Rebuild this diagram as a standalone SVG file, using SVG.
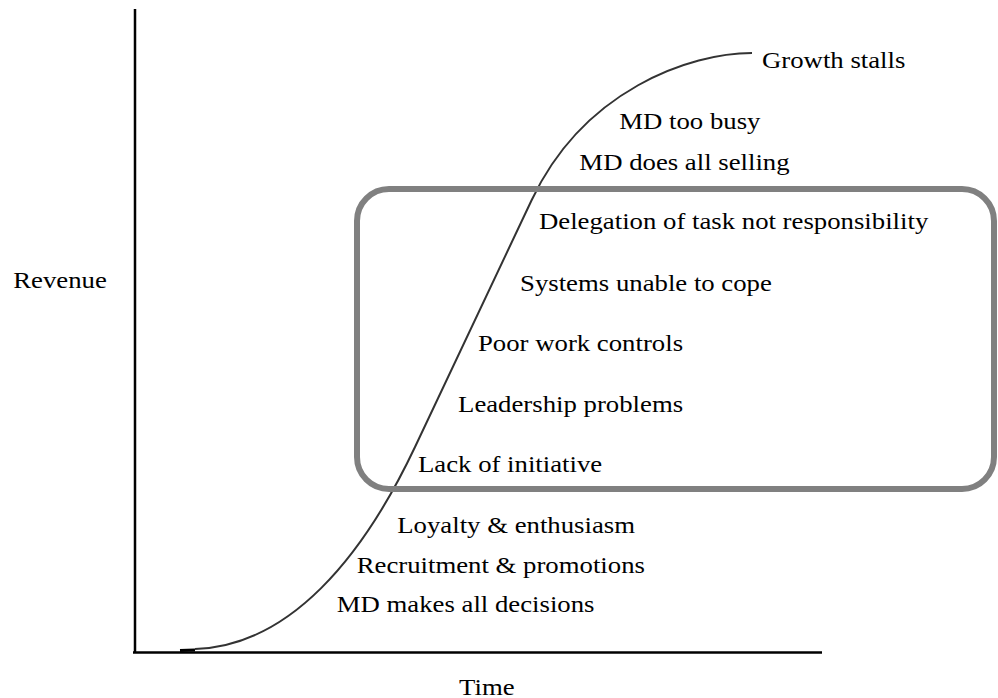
<svg xmlns="http://www.w3.org/2000/svg" width="998" height="698" viewBox="0 0 998 698">
<style>
text{font-family:"Liberation Serif","Times New Roman","DejaVu Serif",serif;font-size:24px;fill:#000}
.axis{stroke:#000;stroke-width:2.5;fill:none}
.curve{stroke:#333;stroke-width:2;fill:none}
.box{stroke:#808080;stroke-width:6;fill:none}
</style>
<rect width="998" height="698" fill="#fff"/>
<g id="axes">
<line class="axis" x1="135" y1="9" x2="135" y2="653"/>
<line class="axis" x1="133" y1="652.5" x2="822" y2="652.5"/>
<g transform="scale(1.115,1)">
<text x="11.9" y="288.5">Revenue</text>
<text x="411.7" y="695">Time</text>
</g>
</g>
<g id="connectors">
<path class="curve" d="M195,649 C290,646 363,557 415,447 L531.7,200 C583.7,90 690,53 752,53"/>
<line x1="180" y1="650.5" x2="195" y2="650" stroke="#000" stroke-width="3"/>
</g>
<g id="focus-box">
<rect class="box" x="357" y="189" width="637" height="300" rx="32" ry="32"/>
</g>
<g id="labels" transform="scale(1.115,1)">
<text x="683.4" y="68">Growth stalls</text>
<text x="555.4" y="129">MD too busy</text>
<text x="519.6" y="170">MD does all selling</text>
<text x="483.4" y="229.5">Delegation of task not responsibility</text>
<text x="466.4" y="291">Systems unable to cope</text>
<text x="428.7" y="351">Poor work controls</text>
<text x="410.8" y="412">Leadership problems</text>
<text x="374.9" y="472">Lack of initiative</text>
<text x="356.3" y="533">Loyalty &amp; enthusiasm</text>
<text x="319.9" y="573">Recruitment &amp; promotions</text>
<text x="302" y="612">MD makes all decisions</text>
</g>
</svg>
